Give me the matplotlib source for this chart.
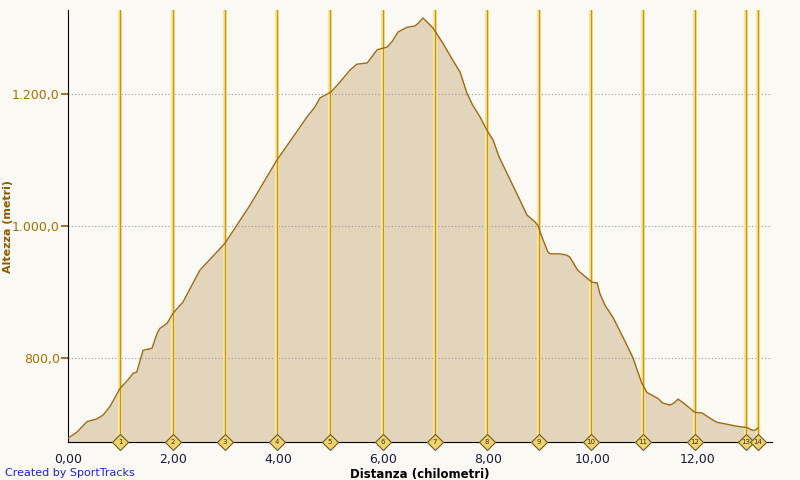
import matplotlib.pyplot as plt
import numpy as np

# profilo altimetrico (km, metri)
dist = [0.0, 0.17, 0.29, 0.36, 0.55, 0.67, 0.8, 0.99, 1.14, 1.24, 1.31, 1.43, 1.6, 1.7,
        1.75, 1.89, 2.0, 2.19, 2.51, 2.99, 3.47, 3.98, 4.42, 4.55, 4.7, 4.8, 5.01, 5.18,
        5.37, 5.5, 5.7, 5.89, 6.08, 6.17, 6.29, 6.46, 6.61, 6.67, 6.76, 6.84, 6.95, 7.14,
        7.33, 7.47, 7.6, 7.71, 7.85, 7.98, 8.1, 8.21, 8.61, 8.74, 8.9, 8.95, 9.03, 9.14,
        9.18, 9.37, 9.5, 9.56, 9.71, 9.98, 10.08, 10.13, 10.23, 10.38, 10.57, 10.76, 10.93,
        11.03, 11.24, 11.33, 11.47, 11.54, 11.62, 11.71, 11.85, 11.94, 12.08, 12.23, 12.36,
        12.55, 12.74, 12.93, 13.03, 13.09, 13.14]
alt = [679, 688, 698, 704, 708, 714, 727, 754, 767, 777, 779, 812, 815, 838,
       845, 853, 868, 885, 933, 974, 1032, 1100, 1150, 1165, 1180, 1194, 1203, 1218,
       1236, 1245, 1247, 1267, 1271, 1279, 1294, 1301, 1303, 1307, 1315, 1309, 1300, 1277,
       1251, 1233, 1201, 1183, 1165, 1145, 1130, 1105, 1039, 1017, 1006, 1001, 983, 961,
       958, 958, 956, 953, 933, 915, 914, 898, 880, 862, 832, 801, 762,
       748, 739, 732, 729, 732, 738, 733, 724, 718, 717, 709, 703,
       700, 697, 695, 691, 691, 694]

# marcatori chilometrici
lap_km = [0.99, 2.0, 2.99, 3.98, 4.99, 6.0, 6.99, 7.98, 8.97, 9.96, 10.95, 11.94, 12.91, 13.14]
lap_lbl = [str(i + 1) for i in range(len(lap_km))]

xticks = [0, 2, 4, 6, 8, 10, 12]
yticks = [800, 1000, 1200]

bg = "#faf9f4"
fig = plt.figure(figsize=(8, 4.8), dpi=100, facecolor=bg)
ax = fig.add_axes([0.085, 0.079, 0.88, 0.9])
ax.set_facecolor(bg)

ymin, ymax = 673, 1327
ax.fill_between(dist, alt, ymin, color="#e3d5bc", lw=0, zorder=1)
ax.plot(dist, alt, color="#9c6a14", lw=1.0, zorder=3)

for y in yticks:
    ax.axhline(y, color="#999999", lw=0.8, ls=(0, (1, 2)), zorder=2)

for k, lbl in zip(lap_km, lap_lbl):
    ax.axvline(k, color="#fbe6a0", lw=3.0, zorder=2)
    ax.axvline(k, color="#c8960c", lw=1.0, zorder=2)
    ax.plot(k, ymin, marker="D", ms=8, mfc="#f2d36b", mec="#6b5a20", mew=0.8,
            clip_on=False, zorder=5)
    ax.text(k, ymin, lbl, fontsize=5, ha="center", va="center", color="#333333",
            zorder=6, clip_on=False)

ax.set_xlim(0, 13.41)
ax.set_ylim(ymin, ymax)
ax.set_xticks(xticks)
ax.set_xticklabels([f"{v:.2f}".replace(".", ",") for v in xticks], fontsize=9, color="#1a1a3a")
ax.set_yticks(yticks)
ax.set_yticklabels([f"{v:,.1f}".replace(",", "X").replace(".", ",").replace("X", ".") for v in yticks],
                   fontsize=9, color="#a87000")
ax.tick_params(axis="y", length=5, color="#8b5a00", width=1.2, pad=1)
ax.tick_params(axis="x", length=0, pad=8)

for s in ["top", "right"]:
    ax.spines[s].set_visible(False)
ax.spines["left"].set_color("black")
ax.spines["bottom"].set_color("black")

ax.set_xlabel("Distanza (chilometri)", fontsize=8.5, fontweight="bold", labelpad=1)
ax.set_ylabel("Altezza (metri)", fontsize=8, fontweight="bold", color="#8b5a00")
ax.yaxis.set_label_coords(-0.078, 0.5)

fig.text(0.006, 0.008, "Created by SportTracks", fontsize=8, color="#2020e0")

fig.savefig("out.png", dpi=100, facecolor=bg)
